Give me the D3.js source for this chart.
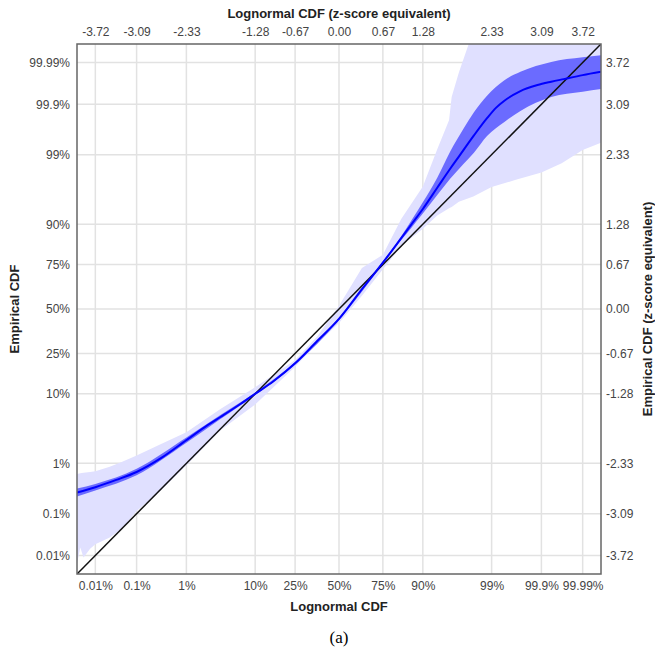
<!DOCTYPE html>
<html>
<head>
<meta charset="utf-8">
<script src="https://cdn.jsdelivr.net/npm/d3@7"></script>
<style>
  body { margin: 0; background: #fff; }
</style>
</head>
<body>
<script>
const panel_width = 655;
const panel_height = 652;

// tick positions in z-score units, with both label sets
const zTicks = [-3.72, -3.09, -2.33, -1.28, -0.67, 0, 0.67, 1.28, 2.33, 3.09, 3.72];
const pctLabels = ["0.01%", "0.1%", "1%", "10%", "25%", "50%", "75%", "90%", "99%", "99.9%", "99.99%"];
const zLabels = ["-3.72", "-3.09", "-2.33", "-1.28", "-0.67", "0.00", "0.67", "1.28", "2.33", "3.09", "3.72"];

// fitted curve (lognormal z -> empirical z)
const lineZ = [-4.0, -3.72, -3.4, -3.09, -2.7, -2.33, -2.0, -1.81, -1.5, -1.28, -1.0, -0.67, -0.33, 0, 0.35, 0.67, 0.95, 1.1, 1.28, 1.5, 1.7, 1.83, 2.06, 2.26, 2.4, 2.52, 2.77, 3.03, 3.24, 3.43, 3.72, 4.0];
const lineY = [-2.77, -2.69, -2.58, -2.46, -2.24, -1.98, -1.75, -1.63, -1.43, -1.28, -1.09, -0.82, -0.48, -0.15, 0.30, 0.70, 1.07, 1.27, 1.51, 1.83, 2.12, 2.30, 2.62, 2.88, 3.04, 3.14, 3.29, 3.38, 3.43, 3.47, 3.53, 3.58];

// inner (dark) confidence band
const darkZ = [-4.0, -3.72, -3.09, -2.33, -1.81, -1.28, -0.67, 0, 0.67, 0.95, 1.1, 1.28, 1.5, 1.7, 1.9, 2.06, 2.26, 2.52, 2.77, 3.24, 3.72, 4.0];
const darkLo = [-2.83, -2.74, -2.51, -2.02, -1.66, -1.30, -0.84, -0.17, 0.68, 1.04, 1.22, 1.44, 1.72, 1.97, 2.19, 2.36, 2.61, 2.82, 2.99, 3.20, 3.28, 3.32];
const darkHi = [-2.71, -2.64, -2.41, -1.94, -1.60, -1.26, -0.80, -0.13, 0.72, 1.10, 1.33, 1.61, 1.98, 2.38, 2.72, 2.97, 3.22, 3.45, 3.58, 3.73, 3.80, 3.83];

// outer (light) band
const lightZ = [-4.0, -3.95, -3.9, -3.8, -3.72, -3.5, -3.3, -3.09, -2.7, -2.33, -1.81, -1.28, -0.67, -0.33, 0, 0.35, 0.67, 0.95, 1.28, 1.5, 1.68, 1.72, 1.83, 2.05, 2.33, 2.7, 3.09, 3.4, 3.72, 4.0];
const lightLo = [-3.85, -3.6, -3.75, -3.62, -3.55, -3.45, -3.30, -3.05, -2.72, -2.36, -1.83, -1.44, -0.87, -0.52, -0.21, 0.20, 0.60, 0.95, 1.21, 1.41, 1.52, 1.54, 1.62, 1.70, 1.84, 1.95, 2.06, 2.20, 2.40, 2.51];
const lightHi = [-2.49, -2.48, -2.47, -2.46, -2.45, -2.38, -2.30, -2.21, -2.03, -1.86, -1.51, -1.18, -0.77, -0.41, 0.05, 0.62, 0.82, 1.36, 1.85, 2.41, 2.85, 3.20, 3.57, 4.2, 4.5, 4.5, 4.5, 4.5, 4.5, 4.5];

const margin = { left: 77, right: 54, top: 44, bottom: 78 };

const x = d3.scaleLinear().domain([-4, 4]).range([margin.left, panel_width - margin.right]);
const y = d3.scaleLinear().domain([-4, 4]).range([panel_height - margin.bottom, margin.top]);

const svg = d3.select("body")
    .append("svg")
    .attr("width", panel_width)
    .attr("height", panel_height)
    .attr("font-family", "Liberation Sans, Arial, sans-serif");

svg.append("defs").append("clipPath")
    .attr("id", "plot-clip")
    .append("rect")
    .attr("x", x(-4))
    .attr("y", y(4))
    .attr("width", x(4) - x(-4))
    .attr("height", y(-4) - y(4));

// grid
const grid = svg.append("g").attr("class", "grid");
grid.selectAll("line.v")
    .data(zTicks)
    .join("line")
    .attr("class", "v")
    .attr("x1", d => x(d)).attr("x2", d => x(d))
    .attr("y1", y(4)).attr("y2", y(-4))
    .attr("stroke", "#e2e2e2")
    .attr("stroke-width", 1.5);
grid.selectAll("line.h")
    .data(zTicks)
    .join("line")
    .attr("class", "h")
    .attr("y1", d => y(d)).attr("y2", d => y(d))
    .attr("x1", x(-4)).attr("x2", x(4))
    .attr("stroke", "#e2e2e2")
    .attr("stroke-width", 1.5);

const plot = svg.append("g").attr("clip-path", "url(#plot-clip)");

const lightData = lightZ.map((z, i) => ({ z: z, lo: lightLo[i], hi: lightHi[i] }));
const darkData = darkZ.map((z, i) => ({ z: z, lo: darkLo[i], hi: darkHi[i] }));
const lineData = lineZ.map((z, i) => ({ z: z, v: lineY[i] }));

plot.append("path")
    .datum(lightData)
    .attr("fill", "#e0e0ff")
    .attr("d", d3.area().x(d => x(d.z)).y0(d => y(d.lo)).y1(d => y(d.hi)));

plot.append("path")
    .datum(darkData)
    .attr("fill", "#6b6bff")
    .attr("d", d3.area().curve(d3.curveMonotoneX).x(d => x(d.z)).y0(d => y(d.lo)).y1(d => y(d.hi)));

plot.append("path")
    .datum([-4, 4])
    .attr("fill", "none")
    .attr("stroke", "#111")
    .attr("stroke-width", 1.5)
    .attr("d", d3.line().x(d => x(d)).y(d => y(d)));

plot.append("path")
    .datum(lineData)
    .attr("fill", "none")
    .attr("stroke", "#0000ff")
    .attr("stroke-width", 2)
    .attr("d", d3.line().curve(d3.curveMonotoneX).x(d => x(d.z)).y(d => y(d.v)));

// frame
svg.append("rect")
    .attr("x", x(-4))
    .attr("y", y(4))
    .attr("width", x(4) - x(-4))
    .attr("height", y(-4) - y(4))
    .attr("fill", "none")
    .attr("stroke", "#666")
    .attr("stroke-width", 1.5);

// axes (labels only)
function styleAxis(g) {
    g.select(".domain").remove();
    g.selectAll(".tick line").remove();
    g.attr("font-family", "Liberation Sans, Arial, sans-serif");
    g.selectAll(".tick text")
        .attr("fill", "#444")
        .attr("font-size", "12px");
}

svg.append("g")
    .attr("transform", `translate(0,${y(-4) + 4})`)
    .call(d3.axisBottom(x).tickValues(zTicks).tickSize(0).tickFormat((d, i) => pctLabels[i]))
    .call(styleAxis);

svg.append("g")
    .attr("transform", `translate(0,${y(4) - 5})`)
    .call(d3.axisTop(x).tickValues(zTicks).tickSize(0).tickFormat((d, i) => zLabels[i]))
    .call(styleAxis);

svg.append("g")
    .attr("transform", `translate(${x(-4) - 4},0)`)
    .call(d3.axisLeft(y).tickValues(zTicks).tickSize(0).tickFormat((d, i) => pctLabels[i]))
    .call(styleAxis);

svg.append("g")
    .attr("transform", `translate(${x(4) + 2},0)`)
    .call(d3.axisRight(y).tickValues(zTicks).tickSize(0).tickFormat((d, i) => zLabels[i]))
    .call(styleAxis);

// titles
const midX = (x(-4) + x(4)) / 2;
const midY = (y(-4) + y(4)) / 2;

svg.append("text")
    .attr("x", midX).attr("y", 18)
    .attr("text-anchor", "middle")
    .attr("font-size", "13px").attr("font-weight", "bold").attr("fill", "#222")
    .text("Lognormal CDF (z-score equivalent)");

svg.append("text")
    .attr("x", midX).attr("y", 611)
    .attr("text-anchor", "middle")
    .attr("font-size", "13px").attr("font-weight", "bold").attr("fill", "#222")
    .text("Lognormal CDF");

svg.append("text")
    .attr("transform", `translate(19,${midY}) rotate(-90)`)
    .attr("text-anchor", "middle")
    .attr("font-size", "13px").attr("font-weight", "bold").attr("fill", "#222")
    .text("Empirical CDF");

svg.append("text")
    .attr("transform", `translate(652,${midY}) rotate(-90)`)
    .attr("text-anchor", "middle")
    .attr("font-size", "13px").attr("font-weight", "bold").attr("fill", "#222")
    .text("Empirical CDF (z-score equivalent)");

svg.append("text")
    .attr("x", midX).attr("y", 643)
    .attr("text-anchor", "middle")
    .attr("font-size", "17px")
    .style("font-family", "'Liberation Serif', 'Times New Roman', serif")
    .attr("fill", "#000")
    .text("(a)");
</script>
</body>
</html>
